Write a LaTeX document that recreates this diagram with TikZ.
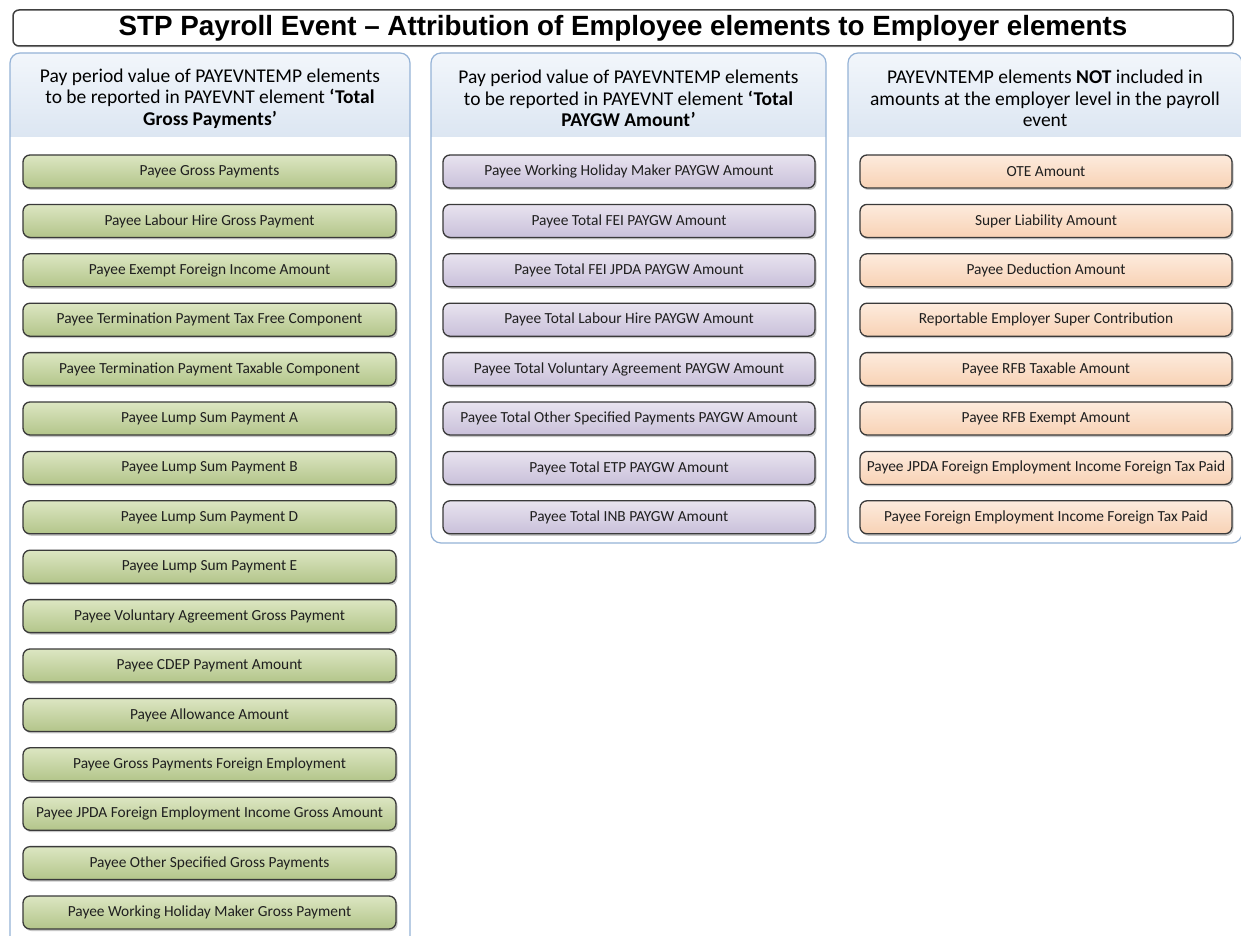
\documentclass[tikz,border=0pt]{standalone}
\usepackage{fontspec}
\setmainfont{Carlito}
\newfontfamily\titlefont{Liberation Sans}
\usetikzlibrary{shadows}
\definecolor{boxline}{HTML}{3A3A3A}
\definecolor{panelline}{HTML}{95B3D7}
\definecolor{headtop}{HTML}{F2F6FB}
\definecolor{headbot}{HTML}{DCE6F2}
\definecolor{gtop}{HTML}{DCE6C2}
\definecolor{gbot}{HTML}{B3C58A}
\definecolor{ptop}{HTML}{E8E3EF}
\definecolor{pbot}{HTML}{C9C0DA}
\definecolor{otop}{HTML}{FDEBDD}
\definecolor{obot}{HTML}{F8D2B5}
\begin{document}
\begin{tikzpicture}[x=1pt,y=-1pt,
  elem/.style={draw=boxline, line width=1.3pt, rounded corners=7pt,
    minimum width=372pt, minimum height=33pt, inner sep=0pt,
    font=\fontsize{15.4}{17}\selectfont, text=black!88,
    drop shadow={shadow xshift=1.5pt, shadow yshift=-2pt, opacity=0.3, fill=black!70}},
  gbox/.style={elem, top color=gtop, bottom color=gbot},
  pbox/.style={elem, top color=ptop, bottom color=pbot},
  obox/.style={elem, top color=otop, bottom color=obot},
  panelframe/.style={draw=panelline, line width=1.2pt, rounded corners=10pt},
  headtext/.style={align=center, font=\fontsize{19.5}{21.3}\selectfont, inner sep=0pt, text=black}
]
\fill[white] (0,0) rectangle (1241,936);
\useasboundingbox (0,0) rectangle (1241,936);

% title
\node[draw=black!75, line width=1.5pt, rounded corners=6pt, fill=white,
  minimum width=1220pt, minimum height=36pt, inner sep=0pt,
  font=\titlefont\bfseries\fontsize{27.8}{30}\selectfont,
  drop shadow={shadow xshift=1pt, shadow yshift=-1.5pt, opacity=0.25}]
  (title) at (623,28) {STP Payroll Event – Attribution of Employee elements to Employer elements};

% panels
\foreach \xa/\xb/\yb in {10/410/975, 431/826/543, 848/1242/543} {
  \begin{scope}
    \clip[rounded corners=10pt] (\xa,53) rectangle (\xb,\yb);
    \shade[top color=headtop, bottom color=headbot] (\xa,53) rectangle (\xb,137);
  \end{scope}
  \draw[panelframe] (\xa,53) rectangle (\xb,\yb);
}

\node[headtext] (h1) at (210,98.5) {Pay period value of PAYEVNTEMP elements\\to be reported in PAYEVNT element \textbf{‘Total}\\\textbf{Gross Payments’}};
\node[headtext] (h2) at (628.5,98.5) {Pay period value of PAYEVNTEMP elements\\to be reported in PAYEVNT element \textbf{‘Total}\\\textbf{PAYGW Amount’}};
\node[headtext] (h3) at (1045,98.5) {PAYEVNTEMP elements \textbf{NOT} included in\\amounts at the employer level in the payroll\\event};

\foreach \t [count=\i] in {Payee Gross Payments, Payee Labour Hire Gross Payment,
  Payee Exempt Foreign Income Amount, Payee Termination Payment Tax Free Component,
  Payee Termination Payment Taxable Component, Payee Lump Sum Payment A,
  Payee Lump Sum Payment B, Payee Lump Sum Payment D, Payee Lump Sum Payment E,
  Payee Voluntary Agreement Gross Payment, Payee CDEP Payment Amount,
  Payee Allowance Amount, Payee Gross Payments Foreign Employment,
  Payee JPDA Foreign Employment Income Gross Amount,
  Payee Other Specified Gross Payments, Payee Working Holiday Maker Gross Payment}
  {\node[gbox, minimum width=373pt] (g\i) at (209.5,{171.5+49.4*(\i-1)}) {\t};}

\foreach \t [count=\i] in {Payee Working Holiday Maker PAYGW Amount,
  Payee Total FEI PAYGW Amount, Payee Total FEI JPDA PAYGW Amount,
  Payee Total Labour Hire PAYGW Amount, Payee Total Voluntary Agreement PAYGW Amount,
  Payee Total Other Specified Payments PAYGW Amount, Payee Total ETP PAYGW Amount,
  Payee Total INB PAYGW Amount}
  {\node[pbox] (p\i) at (629,{171.5+49.4*(\i-1)}) {\t};}

\foreach \t [count=\i] in {OTE Amount, Super Liability Amount, Payee Deduction Amount,
  Reportable Employer Super Contribution, Payee RFB Taxable Amount,
  Payee RFB Exempt Amount, Payee JPDA Foreign Employment Income Foreign Tax Paid,
  Payee Foreign Employment Income Foreign Tax Paid}
  {\node[obox] (o\i) at (1046,{171.5+49.4*(\i-1)}) {\t};}
\end{tikzpicture}
\end{document}
